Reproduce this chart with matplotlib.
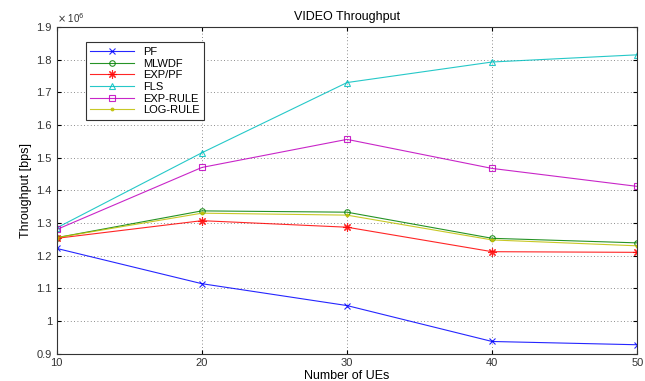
import matplotlib

matplotlib.use("Agg")

import matplotlib.pyplot as plt
from matplotlib.ticker import FuncFormatter

plt.rcParams["font.family"] = ["Liberation Sans", "DejaVu Sans"]

# datos (throughput en unidades de 1e6 bps)
ues = [10, 20, 30, 40, 50]
pf = [1.222, 1.114, 1.047, 0.937, 0.927]
mlwdf = [1.255, 1.337, 1.333, 1.253, 1.239]
exp_pf = [1.253, 1.307, 1.287, 1.212, 1.210]
fls = [1.285, 1.515, 1.730, 1.793, 1.815]
exp_rule = [1.280, 1.470, 1.556, 1.467, 1.412]
log_rule = [1.255, 1.330, 1.324, 1.248, 1.230]

series = [
    ("PF", pf, "#0000ff", "x", 5),
    ("MLWDF", mlwdf, "#008000", "o", 4),
    ("EXP/PF", exp_pf, "#ff0000", (8, 2, 0), 6),
    ("FLS", fls, "#00bfbf", "^", 5),
    ("EXP-RULE", exp_rule, "#bf00bf", "s", 5),
    ("LOG-RULE", log_rule, "#bfbf00", ".", 4),
]

fig = plt.figure(figsize=(6.45, 3.81), dpi=100)
ax = fig.add_axes([0.088, 0.072, 0.900, 0.857])

for nombre, vals, color, mk, ms in series:
    relleno = color if mk in (".",) else "none"
    ax.plot(ues, vals, color=color, linewidth=0.8, marker=mk, markersize=ms,
            markerfacecolor=relleno, markeredgecolor=color,
            markeredgewidth=0.8, label=nombre, alpha=0.85)

ax.set_xlim(10, 50)
ax.set_ylim(0.9, 1.9)
ax.set_xticks([10, 20, 30, 40, 50])
ax.set_yticks([0.9, 1.0, 1.1, 1.2, 1.3, 1.4, 1.5, 1.6, 1.7, 1.8, 1.9])
ax.yaxis.set_major_formatter(FuncFormatter(lambda v, p: f"{v:g}"))
ax.grid(True, linestyle=(0, (1, 3)), color="black", linewidth=0.6, alpha=0.6)
ax.tick_params(direction="in", labelsize=8, top=True, right=True, length=3,
               labelcolor="#333333")
for s in ax.spines.values():
    s.set_linewidth(0.8)
    s.set_color("#333333")

ax.set_title("VIDEO Throughput", fontsize=9, pad=5)
ax.set_xlabel("Number of UEs", fontsize=9, labelpad=1)
ax.set_ylabel("Throughput [bps]", fontsize=9, labelpad=3)
ax.text(0.0, 1.005, r"$\times$ 10$^6$", transform=ax.transAxes, fontsize=7,
        ha="left", va="bottom", color="#333333")

leg = ax.legend(loc="upper left", bbox_to_anchor=(0.04, 0.97), fontsize=8,
                fancybox=False, edgecolor="#333333", framealpha=1,
                handlelength=4, labelspacing=0.15, borderpad=0.4)
leg.get_frame().set_linewidth(0.8)

fig.savefig("out.png", dpi=100)
